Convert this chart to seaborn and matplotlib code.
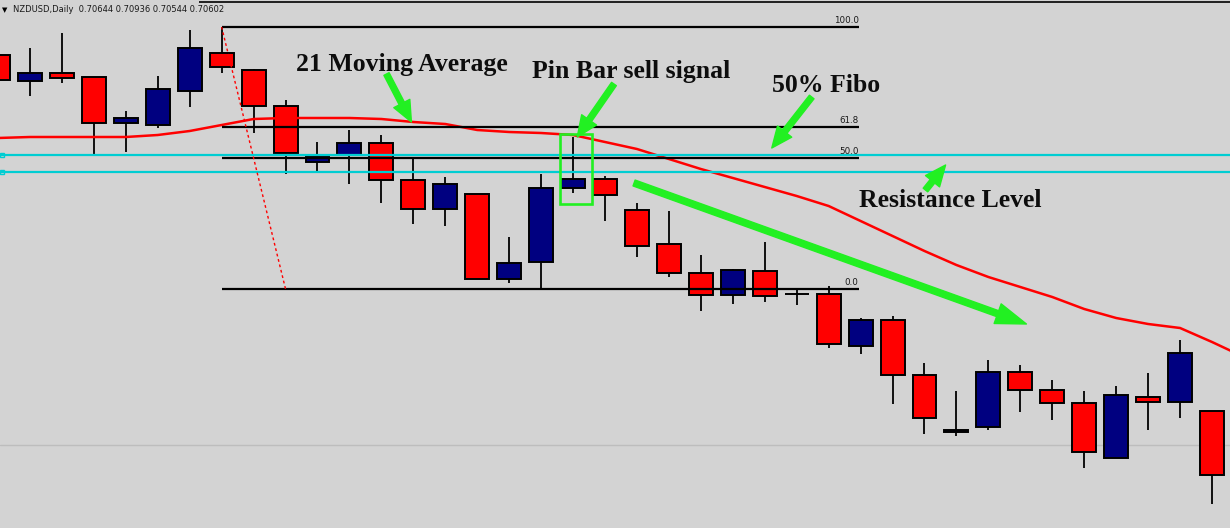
import pandas as pd
import seaborn as sns
import matplotlib.pyplot as plt
from matplotlib.patches import Rectangle

# NZDUSD daily candles (visible window)
opens = [0.7480, 0.7454, 0.7462, 0.7458, 0.7412, 0.7410, 0.7444, 0.7482, 0.7465, 0.7429,
         0.7373, 0.7380, 0.7392, 0.7355, 0.7326, 0.7341, 0.7256, 0.7273, 0.7347, 0.7356,
         0.7325, 0.7291, 0.7262, 0.7240, 0.7264, 0.7241, 0.7241, 0.7189, 0.7215, 0.7160,
         0.7103, 0.7108, 0.7163, 0.7145, 0.7132, 0.7077, 0.7138, 0.7133, 0.7124]
highs = [0.7487, 0.7487, 0.7502, 0.7458, 0.7424, 0.7459, 0.7505, 0.7508, 0.7466, 0.7435,
         0.7393, 0.7405, 0.7400, 0.7376, 0.7358, 0.7341, 0.7298, 0.7361, 0.7398, 0.7359,
         0.7332, 0.7324, 0.7280, 0.7266, 0.7293, 0.7246, 0.7249, 0.7217, 0.7219, 0.7172,
         0.7144, 0.7175, 0.7170, 0.7155, 0.7144, 0.7149, 0.7162, 0.7195, 0.7124]
lows = [0.7447, 0.7439, 0.7452, 0.7379, 0.7383, 0.7407, 0.7428, 0.7462, 0.7402, 0.7361,
        0.7362, 0.7351, 0.7332, 0.7311, 0.7309, 0.7256, 0.7252, 0.7247, 0.7342, 0.7314,
        0.7278, 0.7258, 0.7224, 0.7231, 0.7233, 0.7230, 0.7187, 0.7181, 0.7131, 0.7101,
        0.7099, 0.7105, 0.7123, 0.7115, 0.7067, 0.7077, 0.7105, 0.7117, 0.7031]
closes = [0.7455, 0.7462, 0.7457, 0.7412, 0.7417, 0.7446, 0.7487, 0.7468, 0.7429, 0.7382,
          0.7379, 0.7392, 0.7355, 0.7326, 0.7351, 0.7256, 0.7272, 0.7347, 0.7356, 0.7340,
          0.7289, 0.7262, 0.7240, 0.7265, 0.7239, 0.7241, 0.7191, 0.7215, 0.7160, 0.7117,
          0.7105, 0.7163, 0.7145, 0.7132, 0.7083, 0.7140, 0.7133, 0.7182, 0.7060]

# 21-period moving average, as drawn on the chart (one extra bar past the edge)
ma21 = [0.7397, 0.7398, 0.7398, 0.7398, 0.7398, 0.7400, 0.7404, 0.7410, 0.7416, 0.7417,
        0.7417, 0.7417, 0.7416, 0.7413, 0.7411, 0.7405, 0.7403, 0.7402, 0.7400, 0.7393,
        0.7386, 0.7376, 0.7366, 0.7357, 0.7348, 0.7339, 0.7329, 0.7314, 0.7299, 0.7284,
        0.7270, 0.7258, 0.7248, 0.7238, 0.7226, 0.7217, 0.7211, 0.7207, 0.7193, 0.7178]

fib_levels = [100.0, 61.8, 50.0, 0.0]
fib_high = 0.7508
fib_low = 0.7246
resistance = [0.7380, 0.7363]
gray_level = 0.7090
header = "NZDUSD,Daily  0.70644 0.70936 0.70544 0.70602"

BG = "#d3d3d3"
GREEN = "#22f022"
BULL = "#000080"
BEAR = "#ff0000"

sns.set_style("white")
plt.rcParams["font.family"] = ["DejaVu Sans"]

df = pd.DataFrame({"open": opens, "high": highs, "low": lows, "close": closes})
df["idx"] = range(len(df))
df["bull"] = df["close"] > df["open"]

fig = plt.figure(figsize=(12.3, 5.28), dpi=100, facecolor=BG)
ax = fig.add_axes([0, 0, 1, 1], facecolor=BG)

# candles
ax.vlines(df["idx"], df["low"], df["high"], color="black", lw=1.3, zorder=2)
body_lo = df[["open", "close"]].min(axis=1)
body_h = (df["open"] - df["close"]).abs()
ax.bar(df["idx"], body_h, bottom=body_lo, width=0.75,
       color=[BULL if b else BEAR for b in df["bull"]],
       edgecolor="black", linewidth=1.4, zorder=3)

# moving average
sns.lineplot(x=list(range(len(ma21))), y=ma21, color="red", lw=1.8, ax=ax, zorder=4)

# horizontal objects
ax.axhline(gray_level, color="#bdbdbd", lw=1, zorder=1)
for r in resistance:
    ax.axhline(r, color="#00cdd2", lw=1.6, zorder=5)
    ax.plot(0.13, r, marker="s", ms=3.5, mfc="none", mec="#00cdd2", mew=1, zorder=6)

# fibonacci retracement
fib_start, fib_end = 7, 26.94
for lvl in fib_levels:
    price = fib_low + (fib_high - fib_low) * lvl / 100
    ax.hlines(price, fib_start, fib_end, color="black", lw=1.6, zorder=5)
    ax.text(fib_end, price + 0.0002, f"{lvl:.1f}", ha="right", va="bottom",
            fontsize=6.3, color="#1a1a1a", zorder=6)
ax.plot([7, 9], [fib_high, fib_low], color="red", lw=1, ls=(0, (2, 2)), zorder=5)

# top frame line + header
ax.hlines(0.7533, 6.3, 40, color="black", lw=1.2, zorder=5)
ax.text(0.22, 0.7525, "\u25bc", fontsize=5, ha="center", va="center", color="black")
ax.text(0.47, 0.7525, header, fontsize=6.0, ha="left", va="center", color="#1a1a1a")

# pin bar box
ax.add_patch(Rectangle((17.6, 0.7331), 1.0, 0.0070, fill=False,
                       edgecolor=GREEN, lw=1.9, zorder=6))

# annotations
tfont = dict(family="Liberation Serif", weight="bold", size=18.5, color="#0d0d0d")
ax.text(9.34, 0.7464, "21 Moving Average", ha="left", va="baseline", **tfont)
ax.text(16.72, 0.7457, "Pin Bar sell signal", ha="left", va="baseline", **tfont)
ax.text(24.22, 0.7443, "50% Fibo", ha="left", va="baseline", **tfont)
ax.text(26.94, 0.7328, "Resistance Level", ha="left", va="baseline", **tfont)

small = dict(arrowstyle="simple,head_length=1.5,head_width=1.3,tail_width=0.42",
             color=GREEN, shrinkA=0, shrinkB=0, mutation_scale=10)
big = dict(arrowstyle="simple,head_length=2.2,head_width=1.5,tail_width=0.45",
           color=GREEN, shrinkA=0, shrinkB=0, mutation_scale=10)
arrows = [((12.16, 0.7461), (12.94, 0.7413), small),
          ((19.28, 0.7451), (18.13, 0.7398), small),
          ((25.47, 0.7438), (24.22, 0.7387), small),
          ((29.03, 0.7345), (29.66, 0.7370), small),
          ((19.91, 0.7352), (32.19, 0.7211), big)]
for tail, tip, props in arrows:
    ax.annotate("", xy=tip, xytext=tail, arrowprops=props, zorder=7)

ax.set_xlim(0.0625, 38.5625)
ax.set_ylim(0.7007, 0.7535)
ax.set_xticks([])
ax.set_yticks([])
for s in ax.spines.values():
    s.set_visible(False)
ax.set_xlabel("")
ax.set_ylabel("")

fig.savefig("out.png", dpi=100, facecolor=BG)
